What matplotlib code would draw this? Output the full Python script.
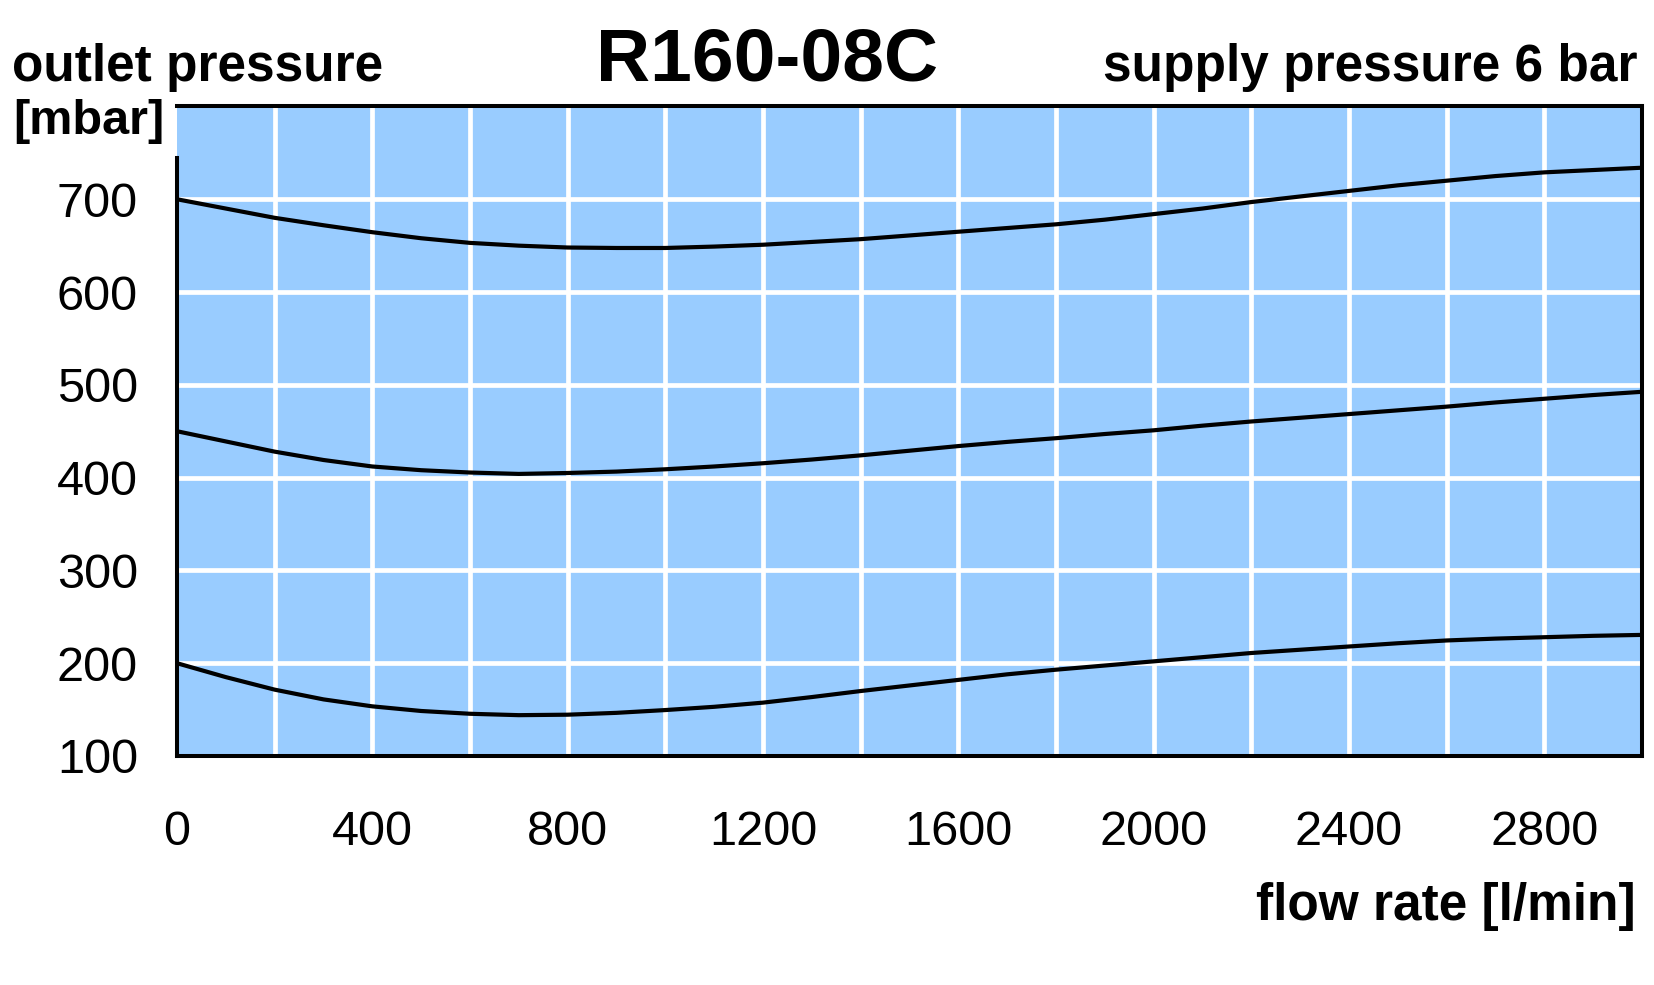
import matplotlib.pyplot as plt

plt.rcParams['font.family'] = ['Liberation Sans', 'DejaVu Sans']

# flow rate [l/min] sample points, every 100 l/min
flow = list(range(0, 3001, 100))

# outlet pressure curves [mbar] for three set points
high_curve = [700, 690, 680, 672, 664.5, 658, 653, 650, 648, 647.5, 647.5,
              649, 651, 654, 657, 661, 665, 669, 673, 678, 684,
              690, 697, 703, 709, 715, 720, 725, 729, 731.5, 734]
mid_curve = [450, 439, 428, 419, 412, 408, 405.5, 404, 405, 406.5, 409,
             412, 415.5, 419.5, 424, 429, 434, 438.5, 442.5, 447, 451,
             456, 460.5, 464.5, 468.5, 472.5, 476.5, 481, 485, 489, 492.5]
low_curve = [200, 185, 171.5, 161, 153.5, 148.5, 145.5, 144, 144.5, 146.5, 149.5,
             153, 157.5, 163.5, 170, 176, 182, 188, 193, 197.5, 202,
             206.5, 211, 214.5, 218, 221.5, 224.5, 226.5, 228, 229.5, 230.5]

x_ticks = [0, 400, 800, 1200, 1600, 2000, 2400, 2800]
y_ticks = [100, 200, 300, 400, 500, 600, 700]

fig = plt.figure(figsize=(16.54, 9.85), dpi=100)
ax = fig.add_axes([0.107, 0.2325, 0.8857, 0.6594])
ax.set_facecolor('#99ccff')

# white grid: every 200 l/min and every 100 mbar
for gx in range(200, 3000, 200):
    ax.axvline(gx, color='white', lw=3.4, zorder=1)
for gy in range(200, 800, 100):
    ax.axhline(gy, color='white', lw=3.4, zorder=1)

for curve in (high_curve, mid_curve, low_curve):
    ax.plot(flow, curve, color='black', lw=3, zorder=3)

ax.set_xlim(0, 3000)
ax.set_ylim(100, 800)
ax.set_xticks(x_ticks)
ax.set_yticks(y_ticks)
ax.tick_params(length=0, labelsize=35)
ax.tick_params(axis='x', pad=39)
ax.tick_params(axis='y', pad=28)

for side in ('left', 'right', 'top', 'bottom'):
    ax.spines[side].set_linewidth(2.9)
    ax.spines[side].set_zorder(4)
ax.spines['left'].set_bounds(100, 745)

fig.text(0.464, 0.918, 'R160-08C', fontsize=54, fontweight='bold', ha='center', va='baseline')
fig.text(0.007, 0.918, 'outlet pressure', fontsize=37, fontweight='bold', ha='left', va='baseline')
fig.text(0.008, 0.864, '[mbar]', fontsize=35, fontweight='bold', ha='left', va='baseline')
fig.text(0.990, 0.918, 'supply pressure 6 bar', fontsize=37, fontweight='bold', ha='right', va='baseline')
fig.text(0.989, 0.066, 'flow rate [l/min]', fontsize=37, fontweight='bold', ha='right', va='baseline')

fig.savefig('out.png', dpi=100, facecolor='white')
